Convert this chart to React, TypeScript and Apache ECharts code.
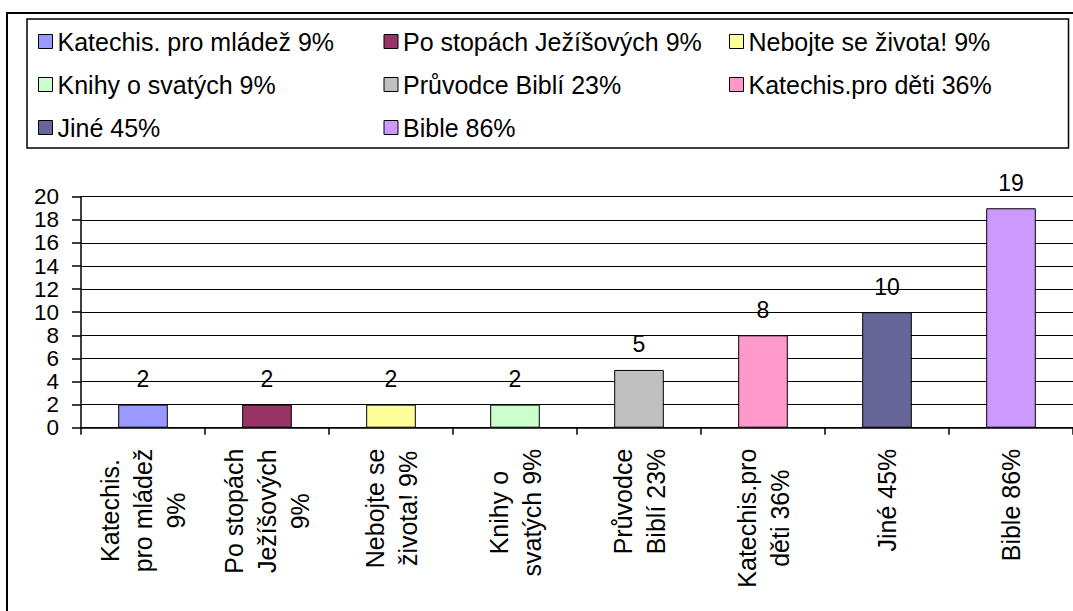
import React, { useEffect, useRef } from 'react';
import * as echarts from 'echarts';

const categories = [
  'Katechis. pro mládež 9%',
  'Po stopách Ježíšových 9%',
  'Nebojte se života! 9%',
  'Knihy o svatých 9%',
  'Průvodce Biblí 23%',
  'Katechis.pro děti 36%',
  'Jiné 45%',
  'Bible 86%',
];
const axisLabels = [
  'Katechis.\npro mládež\n9%',
  'Po stopách\nJežíšových\n9%',
  'Nebojte se\nživota! 9%',
  'Knihy o\nsvatých 9%',
  'Průvodce\nBiblí 23%',
  'Katechis.pro\nděti 36%',
  'Jiné 45%',
  'Bible 86%',
];
const values = [2, 2, 2, 2, 5, 8, 10, 19];
const colors = ['#9999FF', '#993366', '#FFFF99', '#CCFFCC', '#C0C0C0', '#FF99CC', '#666699', '#CC99FF'];
const yMin = 0;
const yMax = 20;
const yInterval = 2;

const FONT = '"Liberation Sans", Arial, sans-serif';

export default function App() {
  const ref = useRef<HTMLDivElement>(null);
  useEffect(() => {
    if (!ref.current) return;
    const chart = echarts.init(ref.current, undefined, { renderer: 'svg' });
    const series = categories.map((name, i) => ({
      name,
      type: 'bar',
      stack: 'all',
      barWidth: '40%',
      data: values.map((v, j) => (j === i ? v : '-')),
      itemStyle: { color: colors[i], borderColor: '#000', borderWidth: 1 },
      label: {
        show: true,
        position: 'top',
        distance: 14,
        color: '#000',
        fontSize: 23,
        fontFamily: FONT,
      },
    }));
    chart.setOption({
      animation: false,
      backgroundColor: '#fff',
      textStyle: { fontFamily: FONT },
      legend: {
        data: categories.map((name) => ({ name, icon: 'rect' })),
        left: 27,
        top: 19,
        width: 1045,
        padding: [6, 4, 4, 11],
        itemGap: 10,
        itemWidth: 14,
        itemHeight: 14,
        selectedMode: false,
        borderColor: '#000',
        borderWidth: 1.5,
        itemStyle: { borderColor: '#000', borderWidth: 1 },
        textStyle: {
          color: '#000',
          fontSize: 25,
          fontFamily: FONT,
          width: 316,
          lineHeight: 33,
          overflow: 'none',
        },
      },
      grid: { left: 81, right: 0, top: 196.7, bottom: 183.3, containLabel: false },
      xAxis: {
        type: 'category',
        data: categories,
        axisLine: { show: true, lineStyle: { color: '#000', width: 1.5 } },
        axisTick: { show: true, alignWithLabel: false, length: 7, lineStyle: { color: '#000', width: 1.5 } },
        axisLabel: {
          interval: 0,
          rotate: 90,
          margin: 21,
          color: '#000',
          formatter: (_v: string, i: number) =>
            axisLabels[i]
              .split('\n')
              .map((l) => `{c|${l}}`)
              .join('\n'),
          rich: {
            c: { align: 'center', fontSize: 25, lineHeight: 33, fontFamily: FONT, color: '#000' },
          },
        },
      },
      yAxis: {
        type: 'value',
        min: yMin,
        max: yMax,
        interval: yInterval,
        axisLine: { show: true, lineStyle: { color: '#000', width: 1.5 } },
        axisTick: { show: true, length: 9, lineStyle: { color: '#000', width: 1.5 } },
        axisLabel: { color: '#000', fontSize: 22.5, lineHeight: 21, margin: 22, fontFamily: FONT },
        splitLine: { show: true, lineStyle: { color: '#000', width: 1.2 } },
      },
      graphic: [
        {
          type: 'rect',
          shape: { x: 7, y: 13, width: 1200, height: 800 },
          style: { fill: 'none', stroke: '#000', lineWidth: 2 },
          silent: true,
        },
      ],
      series,
    });
    return () => chart.dispose();
  }, []);
  return (
    <div
      ref={ref}
      style={{ position: 'fixed', left: 0, top: 0, width: 1073, height: 611 }}
    />
  );
}
